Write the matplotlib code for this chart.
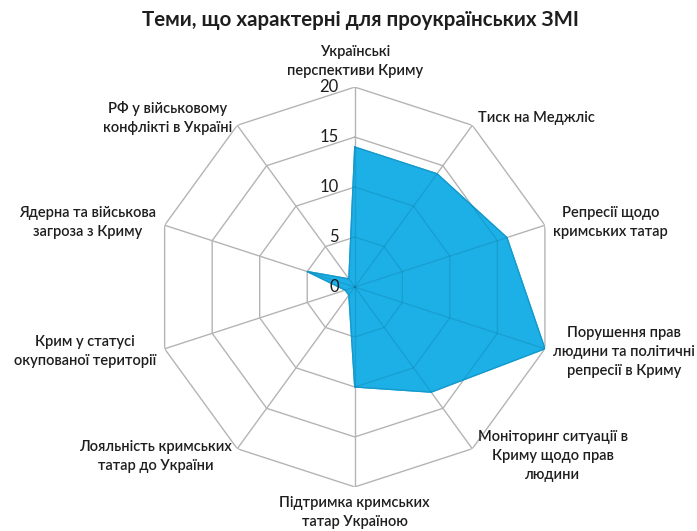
import numpy as np
import matplotlib.pyplot as plt

title = "Теми, що характерні для проукраїнських ЗМІ"
categories = [
    "Українські\nперспективи Криму",
    "Тиск на Меджліс",
    "Репресії щодо\nкримських татар",
    "Порушення прав\nлюдини та політичні\nрепресії в Криму",
    "Моніторинг ситуації в\nКриму щодо прав\nлюдини",
    "Підтримка кримських\nтатар Україною",
    "Лояльність кримських\nтатар до України",
    "Крим у статусі\nокупованої території",
    "Ядерна та військова\nзагроза з Криму",
    "РФ у військовому\nконфлікті в Україні",
]
values = [14, 14, 16, 20, 13, 10, 1, 1, 5, 1]
rings = [0, 5, 10, 15, 20]
ring_labels = ["0", "5", "10", "15", "20"]

plt.rcParams["font.family"] = ["Lato", "DejaVu Sans"]

FILL = "#1db0e6"
EDGE = "#1799cc"
GRID = "#b4b4b4"
TEXT = "#1e1e1e"

angles = np.linspace(0, 2 * np.pi, len(categories), endpoint=False)
closed = np.append(angles, angles[0])
rmax = rings[-1]

fig = plt.figure(figsize=(6.97, 5.31), dpi=100)
ax = fig.add_axes([0.222, 0.083, 0.574, 0.753], projection="polar")
ax.set_theta_offset(np.pi / 2)
ax.set_theta_direction(-1)
ax.set_ylim(0, rmax)
ax.set_axis_off()

# polygon grid under the data
for r in rings[1:]:
    ax.plot(closed, [r] * len(closed), color=GRID, lw=1.0, zorder=1)
for a in angles:
    ax.plot([a, a], [0, rmax], color=GRID, lw=1.0, zorder=1)

poly = ax.fill(closed, values + values[:1], color=FILL, zorder=2)[0]
ax.plot(closed, values + values[:1], color=EDGE, lw=1.0, zorder=3)

# grid seen through the fill
for r in rings[1:]:
    ln, = ax.plot(closed, [r] * len(closed), color="#0b6f9a", lw=1.0, alpha=0.25, zorder=4)
    ln.set_clip_path(poly)
for a in angles:
    ln, = ax.plot([a, a], [0, rmax], color="#0b6f9a", lw=1.0, alpha=0.25, zorder=4)
    ln.set_clip_path(poly)

for r, lab in zip(rings, ring_labels):
    ax.annotate(lab, xy=(0, r), xytext=(-16, 0), textcoords="offset pixels",
                ha="right", va="center", fontsize=12, color=TEXT, zorder=5)

for a, lab in zip(angles, categories):
    s, c = np.sin(a), np.cos(a)
    if s > 0.1:
        ha = "left"
    elif s < -0.1:
        ha = "right"
    else:
        ha = "center"
    if abs(s) > 0.1:
        va = "center"
    else:
        va = "bottom" if c > 0 else "top"
    ax.annotate(lab, xy=(a, rmax), xytext=(9 * s, 9 * c), textcoords="offset pixels",
                ha=ha, va=va, multialignment="center", fontsize=10.5,
                fontweight="semibold", color=TEXT, linespacing=1.45,
                annotation_clip=False)

fig.text(0.517, 1 - 20 / 531, title, ha="center", va="center",
         fontsize=14.8, fontweight="bold", color=TEXT)

fig.savefig("out.png", dpi=100, facecolor="white")
